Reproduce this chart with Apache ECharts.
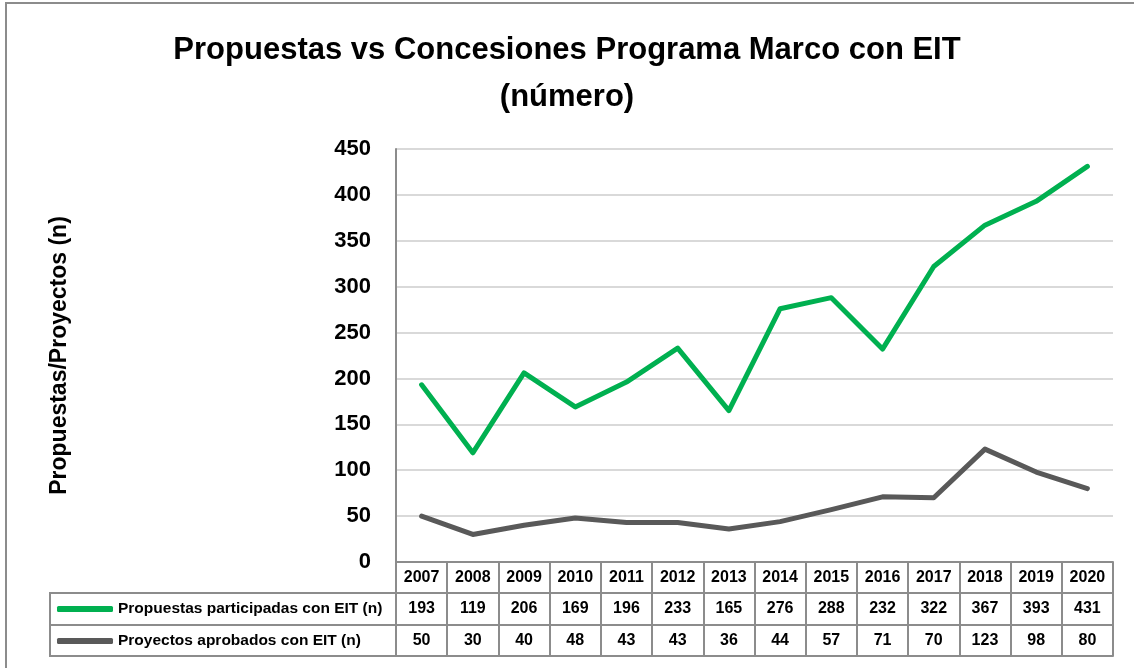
<!DOCTYPE html>
<html>
<head>
<meta charset="utf-8">
<script src="https://cdn.jsdelivr.net/npm/echarts@6/dist/echarts.min.js"></script>
<style>
  html, body { margin: 0; padding: 0; background: #fff; }
  #chart { width: 1134px; height: 668px; }
</style>
</head>
<body>
<div id="chart"></div>
<script>
var years = ['2007', '2008', '2009', '2010', '2011', '2012', '2013', '2014', '2015', '2016', '2017', '2018', '2019', '2020'];
var propuestas = [193, 119, 206, 169, 196, 233, 165, 276, 288, 232, 322, 367, 393, 431];
var aprobados = [50, 30, 40, 48, 43, 43, 36, 44, 57, 71, 70, 123, 98, 80];
var yTicks = { min: 0, max: 450, interval: 50 };

var namePropuestas = 'Propuestas participadas con EIT (n)';
var nameAprobados = 'Proyectos aprobados con EIT (n)';

var FONT = '"Liberation Sans", Arial, sans-serif';
var BORDER = '#8c8c8c';

// plot area
var gridLeft = 396, gridRight = 21, gridTop = 149, gridBottom = 106;
var rowH = [31, 32, 31]; // table rows: years, propuestas, aprobados
var tableLeft = 50;

var chart = echarts.init(document.getElementById('chart'));

// x axes stacked below the plot to build the data table
function tableAxis(offset, tickLen, formatter, margin) {
    return {
        type: 'category',
        data: years,
        position: 'bottom',
        offset: offset,
        boundaryGap: true,
        axisLine: { show: true, lineStyle: { color: BORDER, width: 2 } },
        axisTick: { show: tickLen > 0, interval: 0, length: tickLen, lineStyle: { color: BORDER, width: 2 } },
        axisLabel: {
            show: formatter !== null,
            interval: 0,
            margin: margin,
            fontFamily: FONT,
            fontWeight: 'bold',
            fontSize: 16,
            color: '#000',
            formatter: formatter || undefined
        },
        splitLine: { show: false }
    };
}

var y1 = 668 - gridBottom;       // top of the table
var y2 = y1 + rowH[0];
var y3 = y2 + rowH[1];
var y4 = y3 + rowH[2];

var option = {
    backgroundColor: '#fff',
    animation: false,
    title: {
        text: 'Propuestas vs Concesiones Programa Marco con EIT\n(número)',
        left: 'center',
        top: 22,
        textStyle: {
            fontFamily: FONT,
            fontWeight: 'bold',
            fontSize: 31,
            lineHeight: 47,
            color: '#000'
        }
    },
    legend: {
        orient: 'vertical',
        left: 57,
        top: y2 + 7,
        padding: 0,
        itemWidth: 56,
        itemHeight: 6,
        itemGap: 14,
        icon: 'roundRect',
        textStyle: {
            fontFamily: FONT,
            fontWeight: 'bold',
            fontSize: 15.5,
            lineHeight: 18,
            verticalAlign: 'middle',
            color: '#000'
        },
        data: [namePropuestas, nameAprobados]
    },
    grid: {
        left: gridLeft,
        right: gridRight,
        top: gridTop,
        bottom: gridBottom,
        containLabel: false
    },
    xAxis: [
        tableAxis(0, rowH[0], function (v) { return v; }, 8),
        tableAxis(rowH[0], rowH[1], function (v, i) { return String(propuestas[i]); }, 8),
        tableAxis(rowH[0] + rowH[1], rowH[2], function (v, i) { return String(aprobados[i]); }, 8),
        tableAxis(rowH[0] + rowH[1] + rowH[2], 0, null, 0)
    ],
    yAxis: {
        type: 'value',
        min: yTicks.min,
        max: yTicks.max,
        interval: yTicks.interval,
        name: 'Propuestas/Proyectos (n)',
        nameLocation: 'middle',
        nameGap: 325,
        nameTextStyle: {
            fontFamily: FONT,
            fontWeight: 'bold',
            fontSize: 23,
            color: '#000'
        },
        axisLine: { show: true, lineStyle: { color: BORDER, width: 2 } },
        axisTick: { show: false },
        axisLabel: {
            margin: 25,
            fontFamily: FONT,
            fontWeight: 'bold',
            fontSize: 22,
            color: '#000'
        },
        splitLine: { lineStyle: { color: '#d9d9d9', width: 2 } }
    },
    graphic: [
        // outer chart frame
        {
            type: 'rect',
            shape: { x: 6, y: 3, width: 1200, height: 720 },
            style: { fill: 'none', stroke: BORDER, lineWidth: 2 },
            silent: true
        },
        // legend cells of the data table
        {
            type: 'polyline',
            shape: { points: [[gridLeft, y2], [tableLeft, y2], [tableLeft, y4], [gridLeft, y4]] },
            style: { fill: 'none', stroke: BORDER, lineWidth: 2 },
            silent: true
        },
        {
            type: 'line',
            shape: { x1: tableLeft, y1: y3, x2: gridLeft, y2: y3 },
            style: { stroke: BORDER, lineWidth: 2 },
            silent: true
        }
    ],
    series: [
        {
            name: namePropuestas,
            type: 'line',
            data: propuestas,
            showSymbol: false,
            symbol: 'none',
            lineStyle: { color: '#00b050', width: 5, join: 'round', cap: 'round' },
            itemStyle: { color: '#00b050' }
        },
        {
            name: nameAprobados,
            type: 'line',
            data: aprobados,
            showSymbol: false,
            symbol: 'none',
            lineStyle: { color: '#595959', width: 5, join: 'round', cap: 'round' },
            itemStyle: { color: '#595959' }
        }
    ]
};

chart.setOption(option);
</script>
</body>
</html>
